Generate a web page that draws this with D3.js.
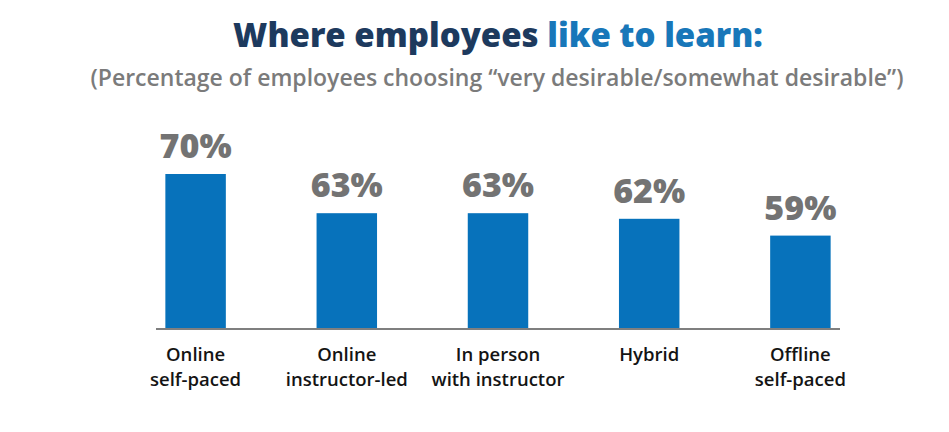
<!DOCTYPE html>
<html>
<head>
<meta charset="utf-8">
<script src="https://cdn.jsdelivr.net/npm/d3@7"></script>
<style>
  body { margin: 0; background: #fff; }
  svg { display: block; }
</style>
</head>
<body>
<script>
// data
var categories = ["Online\nself-paced", "Online\ninstructor-led", "In person\nwith instructor", "Hybrid", "Offline\nself-paced"];
var values = [70, 63, 63, 62, 59];
var valueLabels = ["70%", "63%", "63%", "62%", "59%"];

var width = 949, height = 432;
var baseY = 328;

var svg = d3.select("body").append("svg")
    .attr("width", width)
    .attr("height", height);

var x = d3.scaleBand()
    .domain(categories)
    .range([120, 876])
    .paddingInner(0.6)
    .paddingOuter(0.3);

// truncated value axis, as in the source
var y = d3.scaleLinear()
    .domain([42.5, 70])
    .range([baseY, 174]);

// title
var title = svg.append("text")
    .attr("x", 498)
    .attr("y", 47)
    .attr("text-anchor", "middle")
    .style("font-family", "'Open Sans', sans-serif")
    .style("font-weight", 800)
    .style("font-size", "33px");
title.append("tspan").attr("fill", "#1d3a5e").text("Where employees ");
title.append("tspan").attr("fill", "#1877b9").text("like to learn:");

svg.append("text")
    .attr("x", 497)
    .attr("y", 86)
    .attr("text-anchor", "middle")
    .attr("fill", "#7b7b7b")
    .style("font-family", "'Open Sans', sans-serif")
    .style("font-weight", 600)
    .style("font-size", "23px")
    .text("(Percentage of employees choosing \u201cvery desirable/somewhat desirable\u201d)");

// bars
svg.selectAll("rect.bar")
    .data(values)
    .enter().append("rect")
    .attr("class", "bar")
    .attr("x", function(d, i) { return x(categories[i]); })
    .attr("y", function(d) { return y(d); })
    .attr("width", x.bandwidth())
    .attr("height", function(d) { return baseY - y(d); })
    .attr("fill", "#0772bb");

// value labels
svg.selectAll("text.val")
    .data(values)
    .enter().append("text")
    .attr("class", "val")
    .attr("x", function(d, i) { return x(categories[i]) + x.bandwidth() / 2; })
    .attr("y", function(d) { return y(d) - 16; })
    .attr("text-anchor", "middle")
    .attr("fill", "#737373")
    .style("font-family", "'Open Sans', sans-serif")
    .style("font-weight", 800)
    .style("font-size", "34px")
    .text(function(d, i) { return valueLabels[i]; });

// baseline
svg.append("line")
    .attr("x1", 156)
    .attr("x2", 840)
    .attr("y1", baseY + 1)
    .attr("y2", baseY + 1)
    .attr("stroke", "#7f7f7f")
    .attr("stroke-width", 2);

// category labels
var cat = svg.selectAll("text.cat")
    .data(categories)
    .enter().append("text")
    .attr("class", "cat")
    .attr("x", function(d) { return x(d) + x.bandwidth() / 2; })
    .attr("y", 361)
    .attr("text-anchor", "middle")
    .attr("fill", "#141414")
    .style("font-family", "'Open Sans', sans-serif")
    .style("font-weight", 600)
    .style("font-size", "18.5px");

cat.each(function(d) {
    var el = d3.select(this);
    d.split("\n").forEach(function(line, j) {
        el.append("tspan")
            .attr("x", el.attr("x"))
            .attr("dy", j === 0 ? 0 : 25)
            .text(line);
    });
});
</script>
</body>
</html>
